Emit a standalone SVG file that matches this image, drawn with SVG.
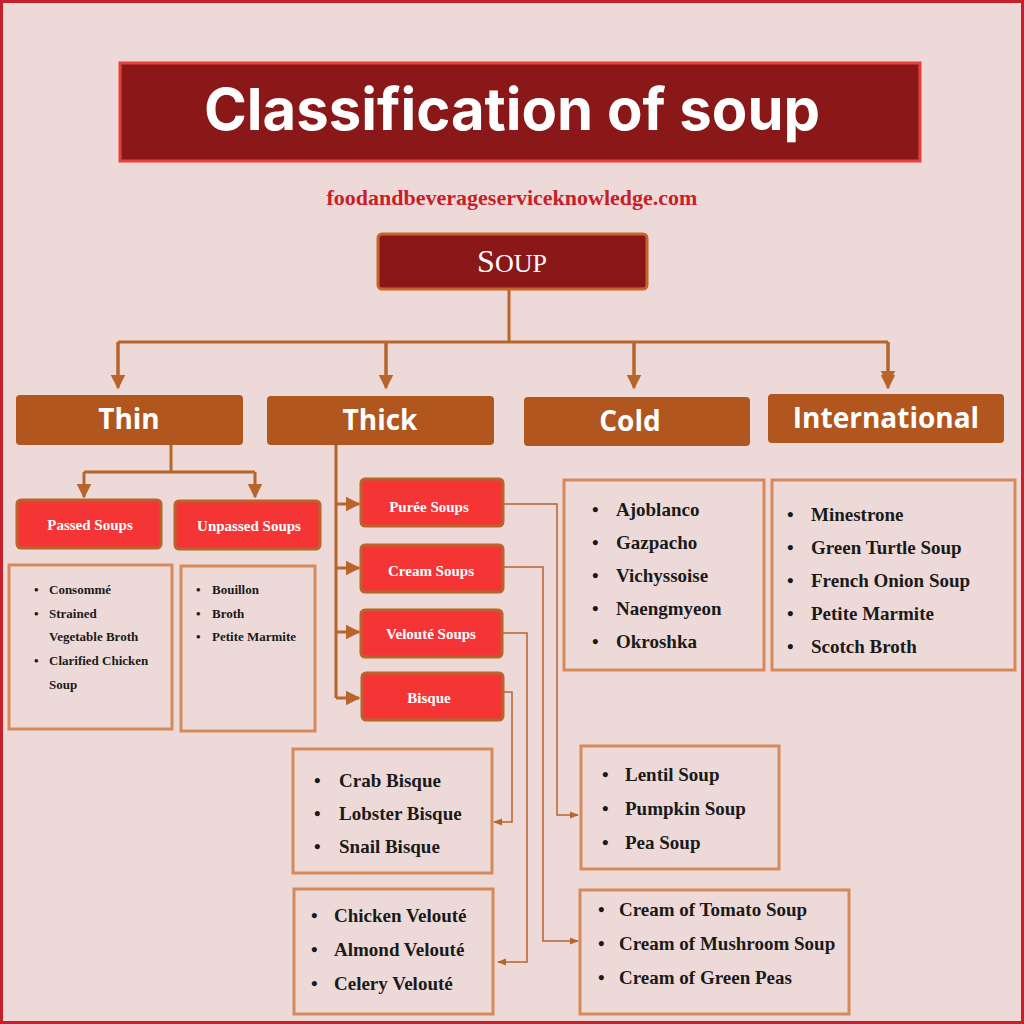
<svg xmlns="http://www.w3.org/2000/svg" width="1024" height="1024" viewBox="0 0 1024 1024">
<style>
.cat{fill:#b0561e;}
.catt{fill:#fff;font-family:"Open Sans","DejaVu Sans",sans-serif;font-weight:bold;font-size:28px;text-anchor:middle}
.sub{fill:#f53535;stroke:#b8642a;stroke-width:3}
.subt{fill:#fff;font-family:"Liberation Serif",serif;font-weight:bold;font-size:15px;text-anchor:middle}
.box{fill:none;stroke:#d68a5a;stroke-width:3}
.it{fill:#1a1a1a;font-family:"Liberation Serif",serif;font-weight:bold;font-size:19px}
.its{fill:#1a1a1a;font-family:"Liberation Serif",serif;font-weight:bold;font-size:13px}
.ln{fill:none;stroke:#b8642a;stroke-width:3}
.ln2{fill:none;stroke:#b8642a;stroke-width:1.5}
</style>
<defs>
<marker id="a" viewBox="0 0 10 10" refX="9" refY="5" markerWidth="5" markerHeight="5" orient="auto"><path d="M0,0L10,5L0,10z" fill="#b8642a"/></marker>
<marker id="b" viewBox="0 0 10 10" refX="9" refY="5" markerWidth="6" markerHeight="6" orient="auto"><path d="M0,1L10,5L0,9z" fill="#b8642a"/></marker>
</defs>
<rect x="0" y="0" width="1024" height="1024" fill="#eddad8"/>
<rect x="1.5" y="1.5" width="1021" height="1021" fill="none" stroke="#c8202a" stroke-width="3"/>
<g id="title">
<rect x="120" y="63" width="800" height="98" fill="#8b1818" stroke="#e8403a" stroke-width="3"/>
<text x="512" y="130" fill="#fff" font-family="Inter,'Open Sans',sans-serif" font-weight="bold" font-size="58" text-anchor="middle">Classification of soup</text>
</g>
<text x="512" y="205" fill="#c8202a" font-family="'Liberation Serif',serif" font-weight="bold" font-size="22" text-anchor="middle">foodandbeverageserviceknowledge.com</text>
<g id="soup"><rect x="378" y="234" width="269" height="55" rx="4" fill="#8b1818" stroke="#c8642a" stroke-width="3"/>
<text x="512" y="272" fill="#fff" font-family="'Liberation Serif',serif" font-size="32" text-anchor="middle">S<tspan font-size="26">OUP</tspan></text></g>
<g id="connectors">
<path class="ln" d="M509,290V342M118,342H888M118,342V384M386,342V384M634,342V384M888,342V384" marker-end="url(#a)"/>
<path class="ln" d="M118,342V388" marker-end="url(#a)"/><path class="ln" d="M386,342V388" marker-end="url(#a)"/><path class="ln" d="M634,342V388" marker-end="url(#a)"/><path class="ln" d="M888,342V388" marker-end="url(#a)"/>
<path class="ln" d="M171,445V472M84,472H255"/>
<path class="ln" d="M84,472V497" marker-end="url(#a)"/><path class="ln" d="M255,472V497" marker-end="url(#a)"/>
<path class="ln" d="M336,445V698"/>
<path class="ln" d="M336,504H359" marker-end="url(#a)"/><path class="ln" d="M336,568H359" marker-end="url(#a)"/><path class="ln" d="M336,632H359" marker-end="url(#a)"/><path class="ln" d="M336,698H359" marker-end="url(#a)"/>
<path class="ln2" d="M503,504H557V815H578" marker-end="url(#b)"/>
<path class="ln2" d="M503,567H543V941H578" marker-end="url(#b)"/>
<path class="ln2" d="M503,633H527V962H498" marker-end="url(#b)"/>
<path class="ln2" d="M503,692H512V822H494" marker-end="url(#b)"/>
</g>
<g id="thin"><rect class="cat" x="16" y="395" width="227" height="50" rx="4"/><text class="catt" x="129" y="429">Thin</text></g>
<g id="thick"><rect class="cat" x="267" y="396" width="227" height="49" rx="4"/><text class="catt" x="380" y="430">Thick</text></g>
<g id="cold"><rect class="cat" x="524" y="397" width="226" height="49" rx="4"/><text class="catt" x="630" y="431">Cold</text></g>
<g id="intl"><rect class="cat" x="768" y="394" width="236" height="49" rx="4"/><text class="catt" x="886" y="428">International</text></g>
<g id="passed"><rect class="sub" x="17" y="500" width="144" height="48" rx="4"/><text class="subt" x="90" y="530">Passed Soups</text></g>
<g id="unpassed"><rect class="sub" x="175" y="501" width="145" height="48" rx="4"/><text class="subt" x="249" y="531">Unpassed Soups</text></g>
<g id="puree"><rect class="sub" x="361" y="479" width="142" height="47" rx="4"/><text class="subt" x="429" y="512">Purée Soups</text></g>
<g id="cream"><rect class="sub" x="361" y="545" width="142" height="47" rx="4"/><text class="subt" x="431" y="576">Cream Soups</text></g>
<g id="veloute"><rect class="sub" x="361" y="610" width="141" height="47" rx="4"/><text class="subt" x="431" y="639">Velouté Soups</text></g>
<g id="bisque"><rect class="sub" x="362" y="673" width="141" height="47" rx="4"/><text class="subt" x="429" y="703">Bisque</text></g>
<g id="passedlist"><rect class="box" x="9" y="565" width="163" height="164"/>
<text class="its"><tspan x="34" y="594">•</tspan><tspan x="49" y="594">Consommé</tspan><tspan x="34" y="618">•</tspan><tspan x="49" y="618">Strained</tspan><tspan x="49" y="641">Vegetable Broth</tspan><tspan x="34" y="665">•</tspan><tspan x="49" y="665">Clarified  Chicken</tspan><tspan x="49" y="689">Soup</tspan></text></g>
<g id="unpassedlist"><rect class="box" x="181" y="566" width="134" height="165"/>
<text class="its"><tspan x="196" y="594">•</tspan><tspan x="212" y="594">Bouillon</tspan><tspan x="196" y="618">•</tspan><tspan x="212" y="618">Broth</tspan><tspan x="196" y="641">•</tspan><tspan x="212" y="641">Petite Marmite</tspan></text></g>
<g id="coldlist"><rect class="box" x="564" y="480" width="200" height="190"/>
<text class="it"><tspan x="592" y="516">•</tspan><tspan x="616" y="516">Ajoblanco</tspan><tspan x="592" y="549">•</tspan><tspan x="616" y="549">Gazpacho</tspan><tspan x="592" y="582">•</tspan><tspan x="616" y="582">Vichyssoise</tspan><tspan x="592" y="615">•</tspan><tspan x="616" y="615">Naengmyeon</tspan><tspan x="592" y="648">•</tspan><tspan x="616" y="648">Okroshka</tspan></text></g>
<g id="intllist"><rect class="box" x="772" y="480" width="243" height="190"/>
<text class="it"><tspan x="787" y="521">•</tspan><tspan x="811" y="521">Minestrone</tspan><tspan x="787" y="554">•</tspan><tspan x="811" y="554">Green Turtle Soup</tspan><tspan x="787" y="587">•</tspan><tspan x="811" y="587">French  Onion Soup</tspan><tspan x="787" y="620">•</tspan><tspan x="811" y="620">Petite Marmite</tspan><tspan x="787" y="653">•</tspan><tspan x="811" y="653">Scotch Broth</tspan></text></g>
<g id="pureelist"><rect class="box" x="581" y="746" width="198" height="123"/>
<text class="it"><tspan x="602" y="781">•</tspan><tspan x="625" y="781">Lentil Soup</tspan><tspan x="602" y="815">•</tspan><tspan x="625" y="815">Pumpkin Soup</tspan><tspan x="602" y="849">•</tspan><tspan x="625" y="849">Pea Soup</tspan></text></g>
<g id="creamlist"><rect class="box" x="580" y="890" width="269" height="124"/>
<text class="it"><tspan x="598" y="916">•</tspan><tspan x="619" y="916">Cream of Tomato Soup</tspan><tspan x="598" y="950">•</tspan><tspan x="619" y="950">Cream of Mushroom Soup</tspan><tspan x="598" y="984">•</tspan><tspan x="619" y="984">Cream of Green Peas</tspan></text></g>
<g id="bisquelist"><rect class="box" x="293" y="749" width="199" height="124"/>
<text class="it"><tspan x="314" y="787">•</tspan><tspan x="339" y="787">Crab Bisque</tspan><tspan x="314" y="820">•</tspan><tspan x="339" y="820">Lobster Bisque</tspan><tspan x="314" y="853">•</tspan><tspan x="339" y="853">Snail Bisque</tspan></text></g>
<g id="veloutelist"><rect class="box" x="294" y="889" width="199" height="125"/>
<text class="it"><tspan x="311" y="922">•</tspan><tspan x="334" y="922">Chicken Velouté</tspan><tspan x="311" y="956">•</tspan><tspan x="334" y="956">Almond Velouté</tspan><tspan x="311" y="990">•</tspan><tspan x="334" y="990">Celery Velouté</tspan></text></g>
</svg>
